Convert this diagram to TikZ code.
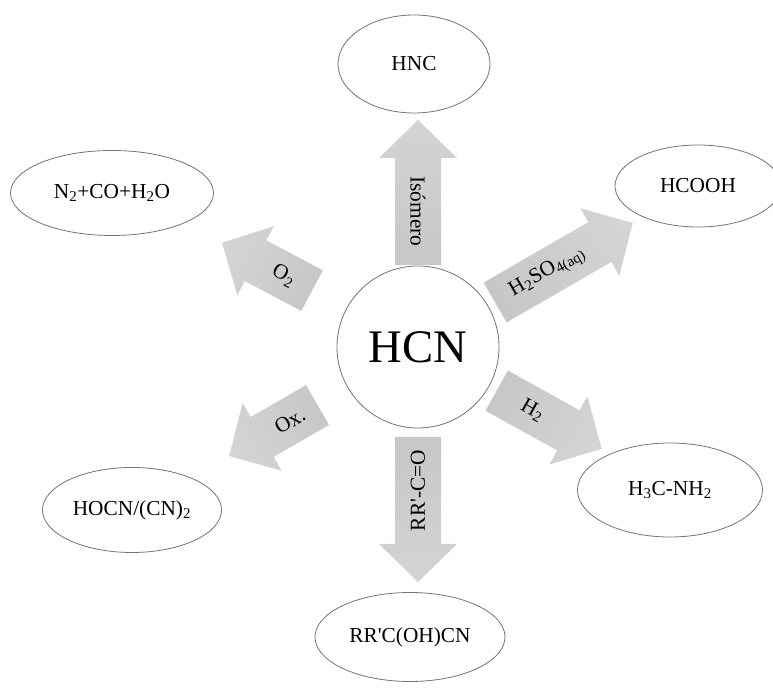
\documentclass[tikz,border=0pt]{standalone}
\usepackage{fontspec}
\setmainfont{Liberation Serif}
\usepackage{tikz}
\usetikzlibrary{shapes.geometric}

\tikzset{
  prod/.style={draw=black!55, line width=0.6pt, ellipse, inner sep=0pt, font=\fontsize{16}{18}\selectfont},
  lab/.style={inner sep=0pt, font=\fontsize{16}{18}\selectfont}
}

\begin{document}
\begin{tikzpicture}[x=0.75pt,y=0.75pt]
\useasboundingbox (0,0) rectangle (773,691);
\node[draw=black!55, line width=0.6pt, circle, minimum size=121.5pt, inner sep=0pt, font=\fontsize{35}{38}\selectfont] (hcn) at (418,344) {HCN};
% products
\node[prod, minimum width=114pt, minimum height=73.5pt] (hnc) at (414,627) {HNC};
\node[prod, minimum width=124.5pt, minimum height=61.5pt] (hcooh) at (698,505) {HCOOH};
\node[prod, minimum width=138.75pt, minimum height=70.5pt] (amina) at (670,201) {H\textsubscript{3}C-NH\textsubscript{2}};
\node[prod, minimum width=152.25pt, minimum height=63.75pt] (comb) at (112,498) {N\textsubscript{2}+CO+H\textsubscript{2}O};
\node[prod, minimum width=134.25pt, minimum height=63.75pt] (hocn) at (132,181) {HOCN/(CN)\textsubscript{2}};
\node[prod, minimum width=142.5pt, minimum height=66.75pt] (cianh) at (410,54) {RR\textquotesingle C(OH)CN};
% reaction arrows
\foreach \ang/\ra/\rb/\nm/\rot/\lab in {90/82/227/iso/-90/{Isómero},
  30/89/248/acid/30/{H\textsubscript{2}SO\textsubscript{4(aq)}},
  -29/90/210/hidr/-29/{H\textsubscript{2}},
  152/120/222/oxig/-28/{O\textsubscript{2}},
  210/116/218/oxid/30/{Ox.},
  -90/90/235/carb/90/{RR\textquotesingle-C=O}}
{
  \begin{scope}[shift={(hcn.center)}, rotate=\ang]
    \path[top color=gray!34, bottom color=gray!44, shading angle=\ang-90]
      (\ra,-23) -- (\rb-38,-23) -- (\rb-38,-39) -- (\rb,0) -- (\rb-38,39) -- (\rb-38,23) -- (\ra,23) -- cycle;
    \node[lab, rotate=\rot] (\nm) at ({(\ra+\rb-38)/2},0) {\lab};
  \end{scope}
}
\end{tikzpicture}
\end{document}
